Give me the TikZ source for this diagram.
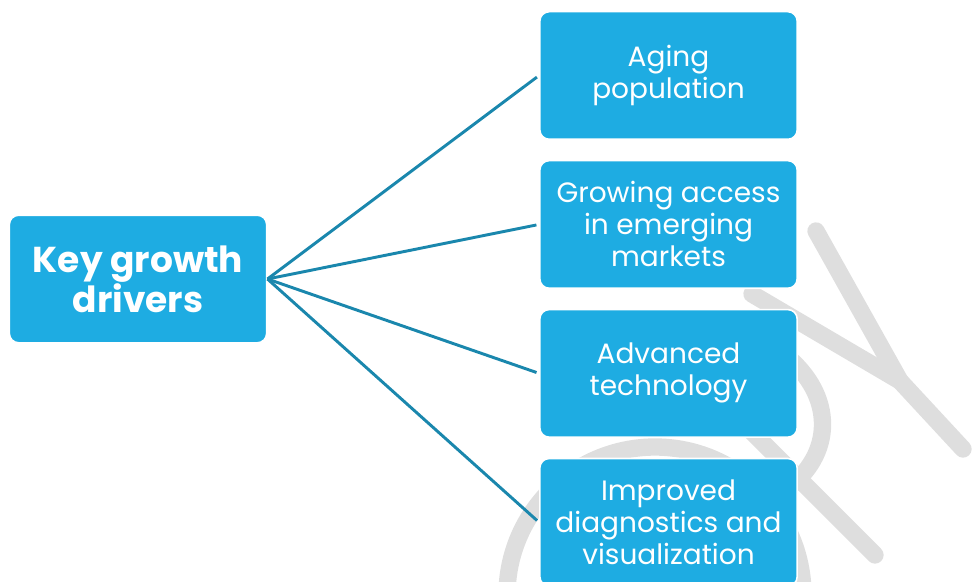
\documentclass[tikz,border=0pt]{standalone}
\usepackage{fontspec}
\setmainfont{Poppins}
\usetikzlibrary{positioning}
\definecolor{driverblue}{HTML}{1EACE2}
\definecolor{linkblue}{HTML}{1A87AD}
\definecolor{stampgray}{HTML}{DEDEDE}

\begin{document}
\begin{tikzpicture}[x=0.75pt,y=-0.75pt,node distance=14.8pt and 206pt,
box/.style={draw=white,line width=1.2pt,fill=driverblue,rounded corners=7pt,text=white,align=center,minimum width=193pt,minimum height=95.7pt,font=\fontsize{21}{24}\selectfont},
hub/.style={box,font=\fontsize{27}{30}\selectfont\bfseries},
link/.style={draw=linkblue,line width=2.2pt,shorten >=2pt},
stamp/.style={draw=stampgray,line width=13pt,line cap=round,line join=round}]
\useasboundingbox (0,0) rectangle (973,581);
% faint stamp lettering behind the boxes
\draw[stamp] (655,595) circle[radius=111pt];
\draw[stamp] (689,369) -- (875,555);
\draw[stamp] (785,355) .. controls (835,395) and (835,455) .. (785,490);
\draw[stamp] (752,294) -- (900,381) -- (963,449);
\draw[stamp] (816,231) -- (900,381);
\node[hub] (key) at (138,279) {Key growth\\drivers};
\node[box] (aging) at (668.5,75.5) {Aging\\population};
\node[box,below=of aging] (access) {Growing access\\in emerging\\markets};
\node[box,below=of access] (tech) {Advanced\\technology};
\node[box,below=of tech] (diag) {Improved\\diagnostics and\\visualization};
\draw[link] (key.east) -- (aging.west);
\draw[link] (key.east) -- (access.west);
\draw[link] (key.east) -- (tech.west);
\draw[link] (key.east) -- (diag.west);
\end{tikzpicture}
\end{document}
